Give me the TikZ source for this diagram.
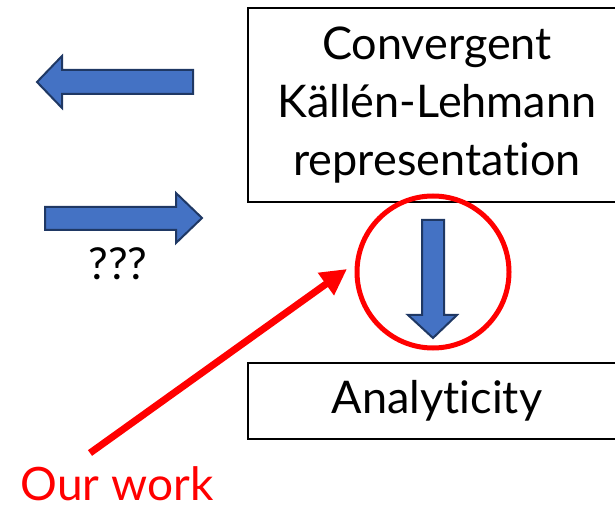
\documentclass[tikz,border=0pt]{standalone}
\usepackage{fontspec}
\setmainfont{Lato}[Ligatures=NoCommon]
\usetikzlibrary{arrows.meta}
\definecolor{boxblue}{HTML}{4472C4}
\definecolor{navy}{HTML}{1F3864}

\begin{document}
\begin{tikzpicture}[x=0.5pt, y=-0.5pt,
  statebox/.style={draw, line width=1pt, minimum width=189pt, align=center, inner sep=0pt,
    font=\fontsize{22.5}{29}\selectfont},
  blockarrow/.style={fill=boxblue, draw=navy, line width=1pt, line join=miter},
  redmark/.style={draw=red, line width=2.5pt}]
  \useasboundingbox (0,0) rectangle (615,507);

  % Boxes
  \node[statebox, minimum height=97pt] (kl) at (437,105) {Convergent\\Källén-Lehmann\\representation};
  \node[statebox, minimum height=38pt] (an) at (437,401) {Analyticity};

  % Block arrows
  \draw[blockarrow] (193,70) -- (62,70) -- (62,56) -- (37,82) -- (62,108) -- (62,94) -- (193,94) -- cycle;
  \draw[blockarrow] (45,207) -- (176,207) -- (176,193) -- (202,218) -- (176,243) -- (176,230) -- (45,230) -- cycle;
  \node[anchor=base, font=\fontsize{22}{26}\selectfont] (qq) at (118,280) {???};
  \draw[blockarrow] (422,220) -- (444,220) -- (444,315) -- (457,315) -- (433,338) -- (408,315) -- (422,315) -- cycle;

  % Our work
  \node[circle, redmark, minimum size=76pt, inner sep=0pt] (ring) at (433,272) {};
  \node[anchor=base, red, inner sep=0pt, font=\fontsize{23}{28}\selectfont] (work) at (117,500) {Our work};
  \coordinate (tail) at (90,453);
  \coordinate (tip) at (347,269);
  \draw[red, line width=3.5pt, -{Triangle[length=13pt, width=13pt]}] (tail) -- (tip);
\end{tikzpicture}
\end{document}
